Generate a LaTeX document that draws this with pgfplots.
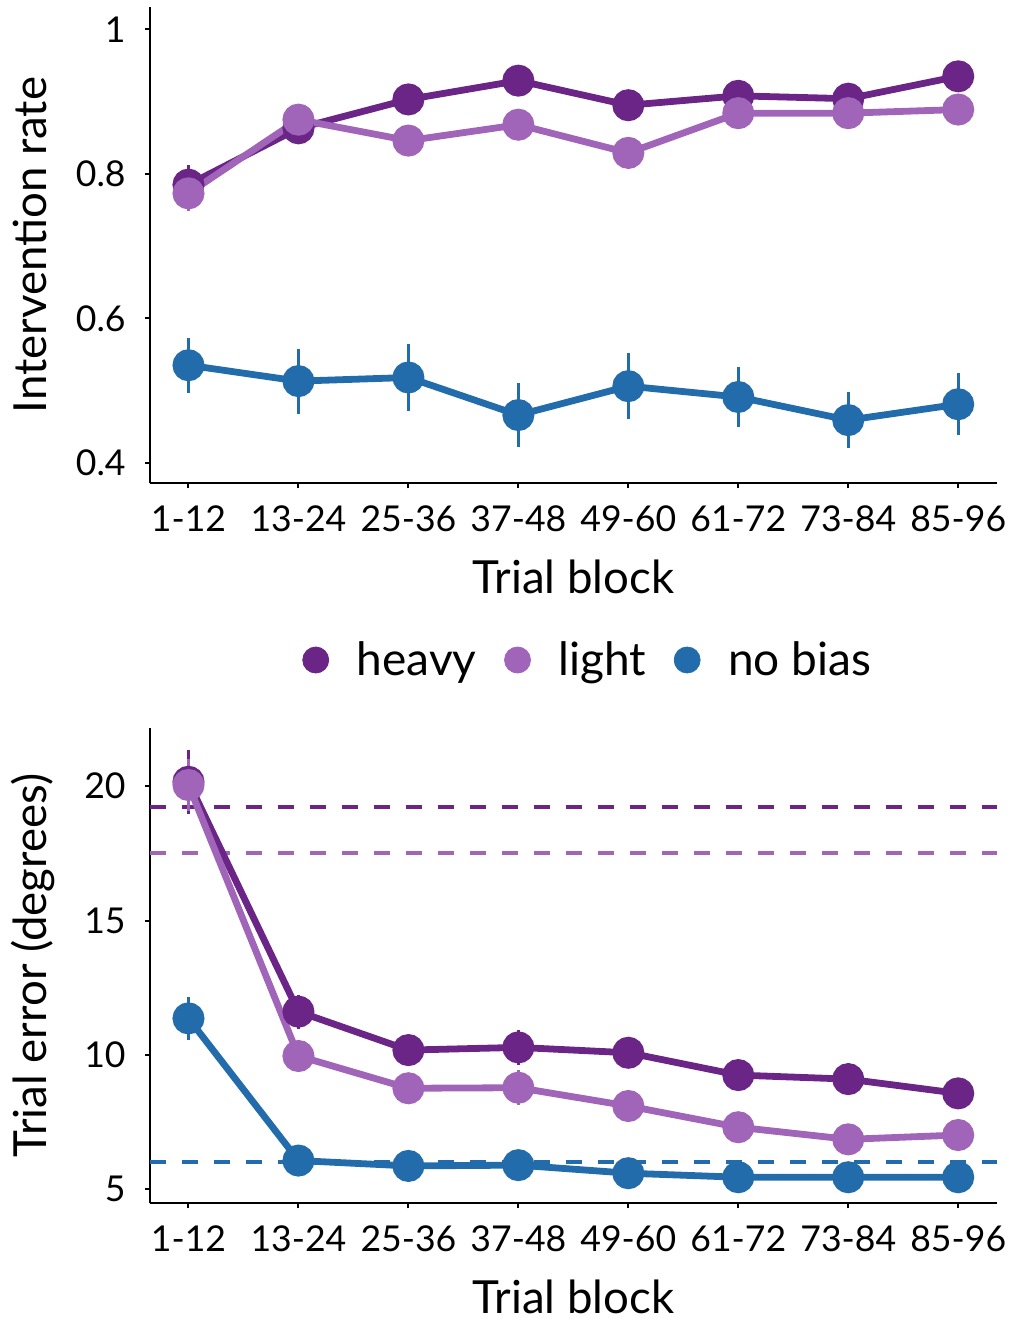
\documentclass[border=0pt]{standalone}
\usepackage{fontspec}
\setmainfont{Lato}
\usepackage{pgfplots}
\pgfplotsset{compat=1.18}
\definecolor{cheavy}{HTML}{6A2586}
\definecolor{clight}{HTML}{A064B9}
\definecolor{cnob}{HTML}{236CAB}
\pgfplotsset{
  panel/.style={
    scale only axis,
    width=423.35pt,
    xmin=-0.35, xmax=7.35,
    axis x line*=bottom, axis y line*=left,
    axis line style={line width=1pt,-, black},
    tick align=outside,
    major tick length=2.5pt,
    every tick/.style={black, line width=1pt},
    xtick={0,1,2,3,4,5,6,7},
    xticklabels={1-12,13-24,25-36,37-48,49-60,61-72,73-84,85-96},
    /pgf/number format/assume math mode=true,
    ticklabel style={font=\fontsize{17.8}{20}\selectfont},
    xticklabel style={anchor=base, inner sep=0pt, yshift=-21.7pt},
    yticklabel style={anchor=east, inner sep=0pt, xshift=-9.5pt},
    label style={font=\fontsize{22.8}{26}\selectfont},
    xlabel style={at={(axis description cs:0.5,0)}, anchor=base, inner sep=0pt, yshift=-55pt},
    ylabel style={at={(axis description cs:-0.1225,0.5)}, anchor=base, inner sep=0pt, rotate=0},
    clip=false,
  },
  dat/.style={line width=3.4pt, mark=*, mark size=6.3pt, forget plot,
      error bars/y dir=both, error bars/y explicit, error bars/error mark=none,
      error bars/error bar style={line width=1.6pt, solid}},
  dline/.style={line width=2pt, dash pattern=on 8pt off 8pt, mark=none, forget plot},
}
\begin{document}
\begin{tikzpicture}
\path[use as bounding box] (0,0) rectangle (505.5pt,-660.5pt);
% ---------------- top panel
\begin{axis}[panel,
  at={(75pt,-241.65pt)}, anchor=south west,
  height=238.15pt,
  ymin=0.3715, ymax=1.031,
  ytick={0.4,0.6,0.8,1}, yticklabels={0.4,0.6,0.8,1},
  xlabel={Trial block}, ylabel={Intervention rate},
]
\addplot[dat, color=cheavy] coordinates {
(0,0.785) +- (0,0.027)
(1,0.863) +- (0,0.015)
(2,0.903) +- (0,0.012)
(3,0.929) +- (0,0.010)
(4,0.895) +- (0,0.012)
(5,0.908) +- (0,0.012)
(6,0.904) +- (0,0.019)
(7,0.935) +- (0,0.010)
};
\addplot[dat, color=clight] coordinates {
(0,0.773) +- (0,0.024)
(1,0.875) +- (0,0.019)
(2,0.846) +- (0,0.012)
(3,0.868) +- (0,0.020)
(4,0.829) +- (0,0.022)
(5,0.884) +- (0,0.019)
(6,0.884) +- (0,0.015)
(7,0.889) +- (0,0.013)
};
\addplot[dat, color=cnob] coordinates {
(0,0.535) +- (0,0.038)
(1,0.513) +- (0,0.045)
(2,0.518) +- (0,0.046)
(3,0.466) +- (0,0.044)
(4,0.506) +- (0,0.046)
(5,0.491) +- (0,0.041)
(6,0.459) +- (0,0.039)
(7,0.481) +- (0,0.043)
};
\end{axis}
% ---------------- bottom panel
\begin{axis}[panel,
  at={(75pt,-601.65pt)}, anchor=south west,
  height=237.5pt,
  ymin=4.48, ymax=22.15,
  ytick={5,10,15,20}, yticklabels={5,10,15,20},
  xlabel={Trial block}, ylabel={Trial error (degrees)},
  legend columns=3,
  legend image code/.code={\draw[#1] plot coordinates {(0pt,0pt)};},
  legend style={draw=none, fill=none, at={(axis description cs:0.5185,1.1438)}, anchor=center,
    font=\fontsize{23}{26}\selectfont,
    /tikz/every odd column/.append style={column sep=12pt},
    /tikz/every even column/.append style={column sep=12pt}},
]
\addplot[dline, color=cheavy] coordinates {(-0.35,19.23) (7.35,19.23)};
\addplot[dline, color=clight] coordinates {(-0.35,17.5) (7.35,17.5)};
\addplot[dline, color=cnob] coordinates {(-0.35,6.03) (7.35,6.03)};
\addplot[dat, color=cheavy] coordinates {
(0,20.16) +- (0,1.2)
(1,11.61) +- (0,0.63)
(2,10.18) +- (0,0.56)
(3,10.28) +- (0,0.65)
(4,10.08) +- (0,0.56)
(5,9.25) +- (0,0.55)
(6,9.10) +- (0,0.6)
(7,8.57) +- (0,0.3)
};
\addplot[dat, color=clight] coordinates {
(0,20.04) +- (0,0.96)
(1,9.96) +- (0,0.6)
(2,8.76) +- (0,0.3)
(3,8.78) +- (0,0.65)
(4,8.10) +- (0,0.3)
(5,7.31) +- (0,0.3)
(6,6.86) +- (0,0.3)
(7,7.02) +- (0,0.3)
};
\addplot[dat, color=cnob] coordinates {
(0,11.36) +- (0,0.79)
(1,6.07) +- (0,0.2)
(2,5.87) +- (0,0.2)
(3,5.90) +- (0,0.2)
(4,5.60) +- (0,0.2)
(5,5.45) +- (0,0.2)
(6,5.45) +- (0,0.2)
(7,5.45) +- (0,0.2)
};
\addlegendimage{only marks, mark=*, mark size=6.5pt, color=cheavy}
\addlegendentry{heavy}
\addlegendimage{only marks, mark=*, mark size=6.5pt, color=clight}
\addlegendentry{light}
\addlegendimage{only marks, mark=*, mark size=6.5pt, color=cnob}
\addlegendentry{no bias}
\end{axis}
\end{tikzpicture}
\end{document}
